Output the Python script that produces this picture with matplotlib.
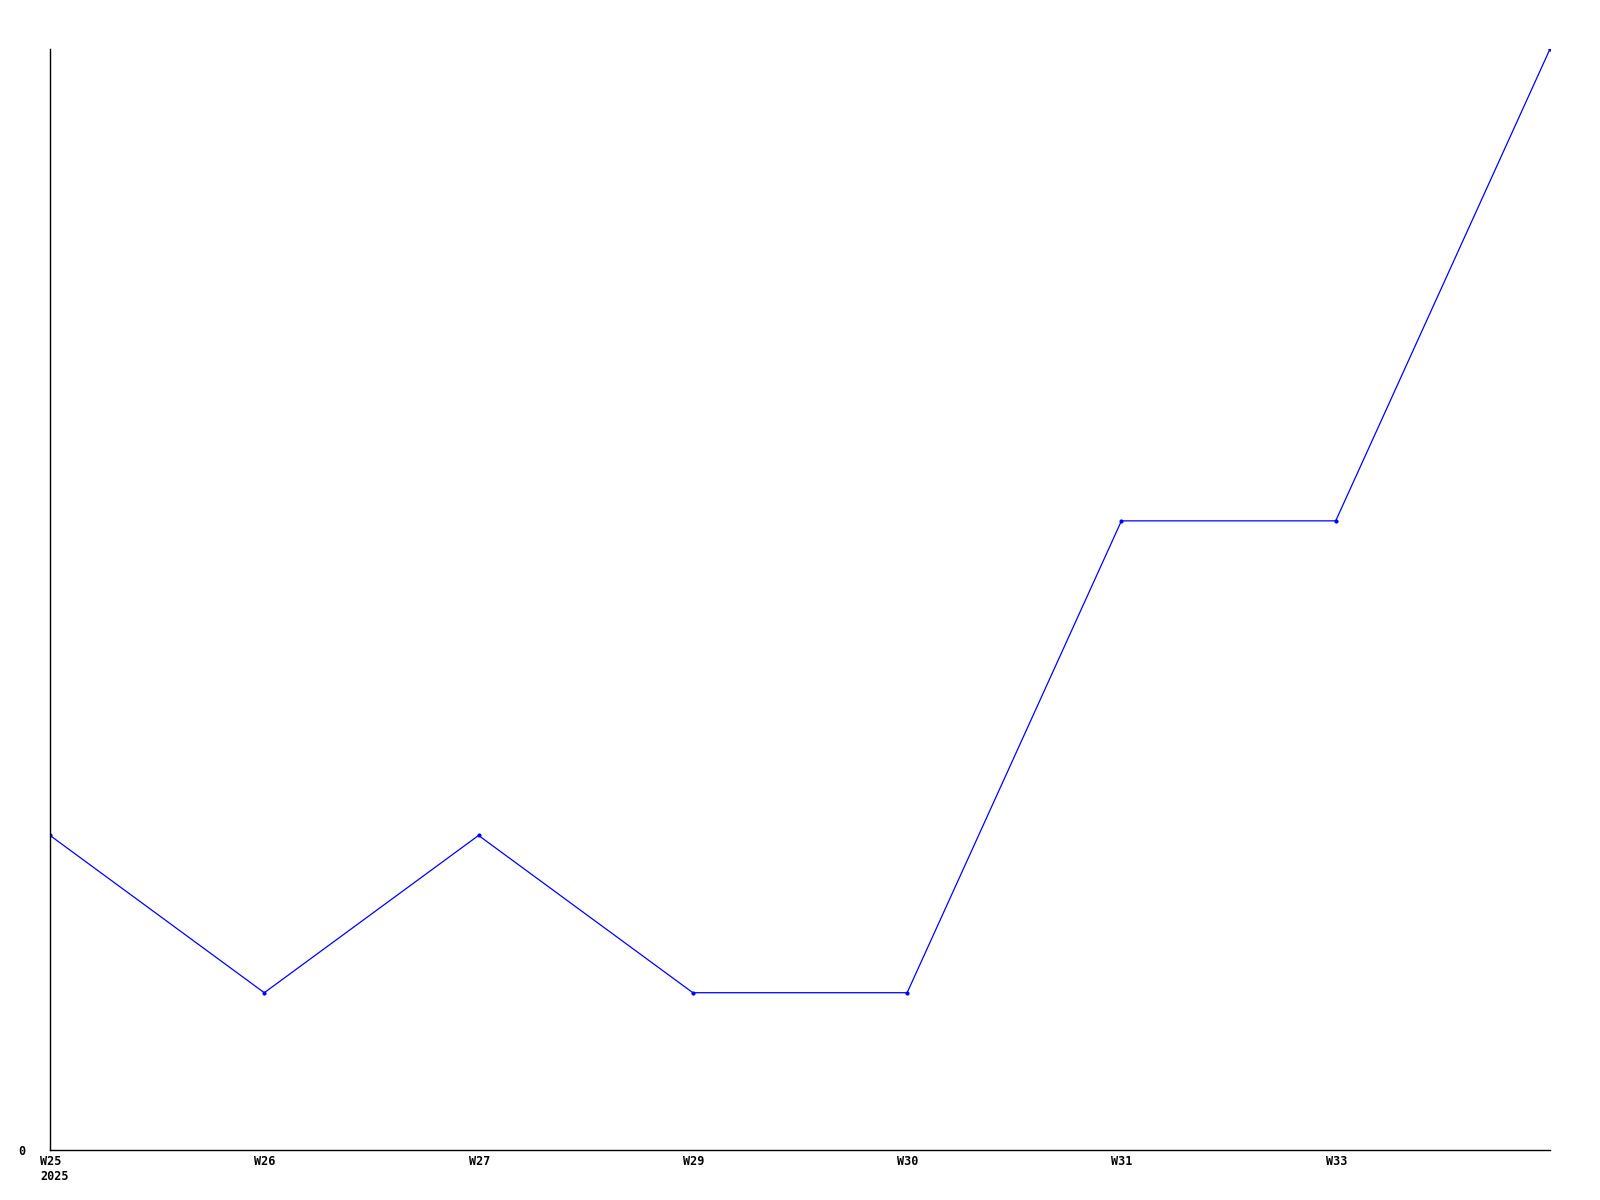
import matplotlib
matplotlib.use("Agg")
import matplotlib.pyplot as plt

weeks = ["W25", "W26", "W27", "W29", "W30", "W31", "W33", "W34"]
tick_labels = ["W25\n2025", "W26", "W27", "W29", "W30", "W31", "W33"]
values = [2, 1, 2, 1, 1, 4, 4, 7]

fig = plt.figure(figsize=(16, 12), dpi=100)
ax = fig.add_axes([50/1600, 1 - 1150/1200, 1500/1600, 1101/1200])

x = list(range(len(weeks)))
ax.plot(x, values, color="#0000ff", linewidth=0.9, marker="o", markersize=3,
        markeredgewidth=0, clip_on=True)

ax.set_xlim(0, len(weeks) - 1)
ax.set_ylim(0, max(values))
ax.set_xticks([])
# x labels: left-aligned, starting ~10 px left of each point
for xi, lab in zip(x, tick_labels):
    ax.annotate(lab, xy=(xi, 0), xycoords="data", xytext=(-10, -5),
                textcoords="offset pixels", ha="left", va="top",
                linespacing=1.2, family="DejaVu Sans Mono",
                fontweight="bold", fontsize=8.5, annotation_clip=False)
ax.set_yticks([0])
ax.set_yticklabels(["0"])
for lab in ax.get_yticklabels():
    lab.set_fontfamily("DejaVu Sans Mono")
    lab.set_fontweight("bold")
    lab.set_fontsize(8.5)
ax.tick_params(axis="both", length=0)
ax.tick_params(axis="y", pad=18)
ax.spines["top"].set_visible(False)
ax.spines["right"].set_visible(False)
for s in ("left", "bottom"):
    ax.spines[s].set_linewidth(1)
    ax.spines[s].set_color("black")

fig.savefig("out.png", dpi=100, facecolor="white")
